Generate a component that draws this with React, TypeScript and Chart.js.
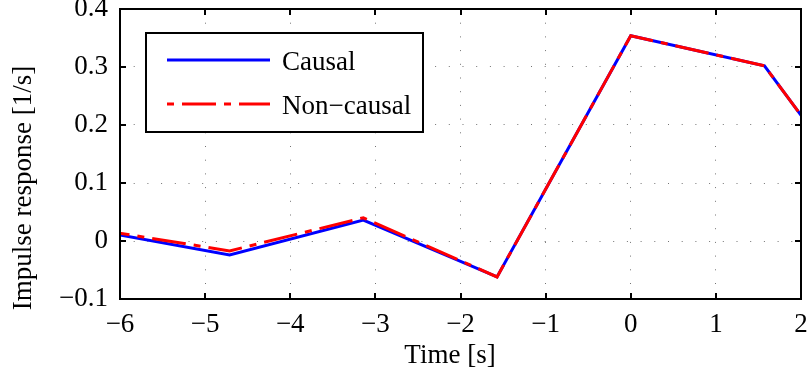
import React, { useEffect, useRef } from 'react';
import { Chart, registerables } from 'chart.js';

Chart.register(...registerables);

// ---- data ----
const timeS = [-6.2832, -4.7124, -3.1416, -1.5708, 0, 1.5708, 3.1416];
const causal = [0.018, -0.024, 0.036, -0.062, 0.354, 0.302, -0.01];
const nonCausal = [0.02, -0.017, 0.04, -0.062, 0.354, 0.302, -0.01];
const seriesLabels = ['Causal', 'Non\u2212causal'];
const xRange = [-6, 2];
const yRange = [-0.1, 0.4];
const xTitle = 'Time [s]';
const yTitle = 'Impulse response [1/s]';

const FONT = '"Liberation Serif", "Times New Roman", serif';
const FS = 27;

const fmt = (v: number) => {
  const r = Math.round(v * 10) / 10;
  return String(r).replace('-', '\u2212');
};

const framePlugin = {
  id: 'frame',
  afterDatasetsDraw(chart: any) {
    const { ctx, chartArea: a, scales } = chart;
    const xs = scales.x;
    const ys = scales.y;
    ctx.save();
    ctx.setLineDash([]);
    ctx.strokeStyle = '#000';
    ctx.lineWidth = 2;
    const tl = 6;
    ctx.beginPath();
    xs.ticks.forEach((t: any) => {
      const px = Math.round(xs.getPixelForValue(t.value));
      ctx.moveTo(px, a.bottom);
      ctx.lineTo(px, a.bottom - tl);
      ctx.moveTo(px, a.top);
      ctx.lineTo(px, a.top + tl);
    });
    ys.ticks.forEach((t: any) => {
      const py = Math.round(ys.getPixelForValue(t.value));
      ctx.moveTo(a.left, py);
      ctx.lineTo(a.left + tl, py);
      ctx.moveTo(a.right, py);
      ctx.lineTo(a.right - tl, py);
    });
    ctx.stroke();
    ctx.strokeRect(a.left, a.top, a.right - a.left, a.bottom - a.top);

    // legend
    const bx = a.left + 26;
    const by = a.top + 24;
    const bw = 277;
    const bh = 99;
    ctx.fillStyle = '#fff';
    ctx.fillRect(bx, by, bw, bh);
    ctx.lineWidth = 2;
    ctx.strokeStyle = '#000';
    ctx.strokeRect(bx, by, bw, bh);
    ctx.font = `${FS}px ${FONT}`;
    ctx.textAlign = 'left';
    ctx.textBaseline = 'alphabetic';
    chart.data.datasets.forEach((ds: any, i: number) => {
      const ly = by + 27 + i * 44;
      ctx.beginPath();
      ctx.strokeStyle = ds.borderColor;
      ctx.lineWidth = ds.borderWidth;
      const dash = ds.borderDash || [];
      ctx.setLineDash(dash);
      ctx.lineDashOffset = dash.length ? dash[0] + dash[1] : 0;
      ctx.moveTo(bx + 21, ly);
      ctx.lineTo(bx + 124, ly);
      ctx.stroke();
      ctx.setLineDash([]);
      ctx.fillStyle = '#000';
      ctx.fillText(ds.label, bx + 136, ly + 10);
    });

    // axis titles
    ctx.fillStyle = '#000';
    ctx.font = `${FS}px ${FONT}`;
    ctx.textAlign = 'center';
    ctx.textBaseline = 'alphabetic';
    ctx.fillText(xTitle, 450, 363);
    ctx.translate(31, 188);
    ctx.rotate(-Math.PI / 2);
    ctx.fillText(yTitle, 0, 0);
    ctx.restore();
  },
};

export default function App() {
  const ref = useRef<HTMLCanvasElement>(null);
  useEffect(() => {
    const zeroPad = (s: any) => {
      s.paddingTop = 0;
      s.paddingBottom = 0;
      s.paddingLeft = 0;
      s.paddingRight = 0;
    };
    const chart = new Chart(ref.current as HTMLCanvasElement, {
      type: 'line',
      data: {
        datasets: [
          {
            label: seriesLabels[0],
            data: timeS.map((x, i) => ({ x, y: causal[i] })),
            borderColor: '#0000ff',
            borderWidth: 3,
            pointRadius: 0,
            tension: 0,
            clip: 0,
            order: 2,
          },
          {
            label: seriesLabels[1],
            data: timeS.map((x, i) => ({ x, y: nonCausal[i] })),
            borderColor: '#ff0000',
            borderWidth: 3,
            borderDash: [34, 8, 7, 8],
            pointRadius: 0,
            tension: 0,
            clip: 0,
            order: 1,
          },
        ],
      },
      options: {
        animation: false,
        responsive: false,
        devicePixelRatio: 1,
        layout: { padding: { top: 9, right: 8, left: 0, bottom: 0 } },
        plugins: { legend: { display: false }, tooltip: { enabled: false } },
        scales: {
          x: {
            type: 'linear',
            min: xRange[0],
            max: xRange[1],
            afterFit: (s: any) => {
              s.height = 76;
              zeroPad(s);
            },
            ticks: {
              stepSize: 1,
              padding: 10,
              color: '#000',
              font: { family: FONT, size: FS },
              maxRotation: 0,
              callback: (v: any) => fmt(Number(v)),
            },
            grid: { color: 'rgba(0,0,0,0.55)', lineWidth: 1, drawTicks: false },
            border: { display: false, dash: [1, 12.7] },
          },
          y: {
            type: 'linear',
            min: yRange[0],
            max: yRange[1],
            afterFit: (s: any) => {
              s.width = 120;
              zeroPad(s);
            },
            ticks: {
              stepSize: 0.1,
              padding: 12,
              color: '#000',
              font: { family: FONT, size: FS },
              callback: (v: any) => fmt(Number(v)),
            },
            grid: { color: 'rgba(0,0,0,0.55)', lineWidth: 1, drawTicks: false },
            border: { display: false, dash: [1, 12.7] },
          },
        },
      } as any,
      plugins: [framePlugin],
    });
    return () => chart.destroy();
  }, []);
  return (
    <div style={{ position: 'absolute', left: 0, top: 0, width: 809, height: 375, background: '#fff' }}>
      <canvas ref={ref} width={809} height={375} style={{ display: 'block', width: 809, height: 375 }} />
    </div>
  );
}
